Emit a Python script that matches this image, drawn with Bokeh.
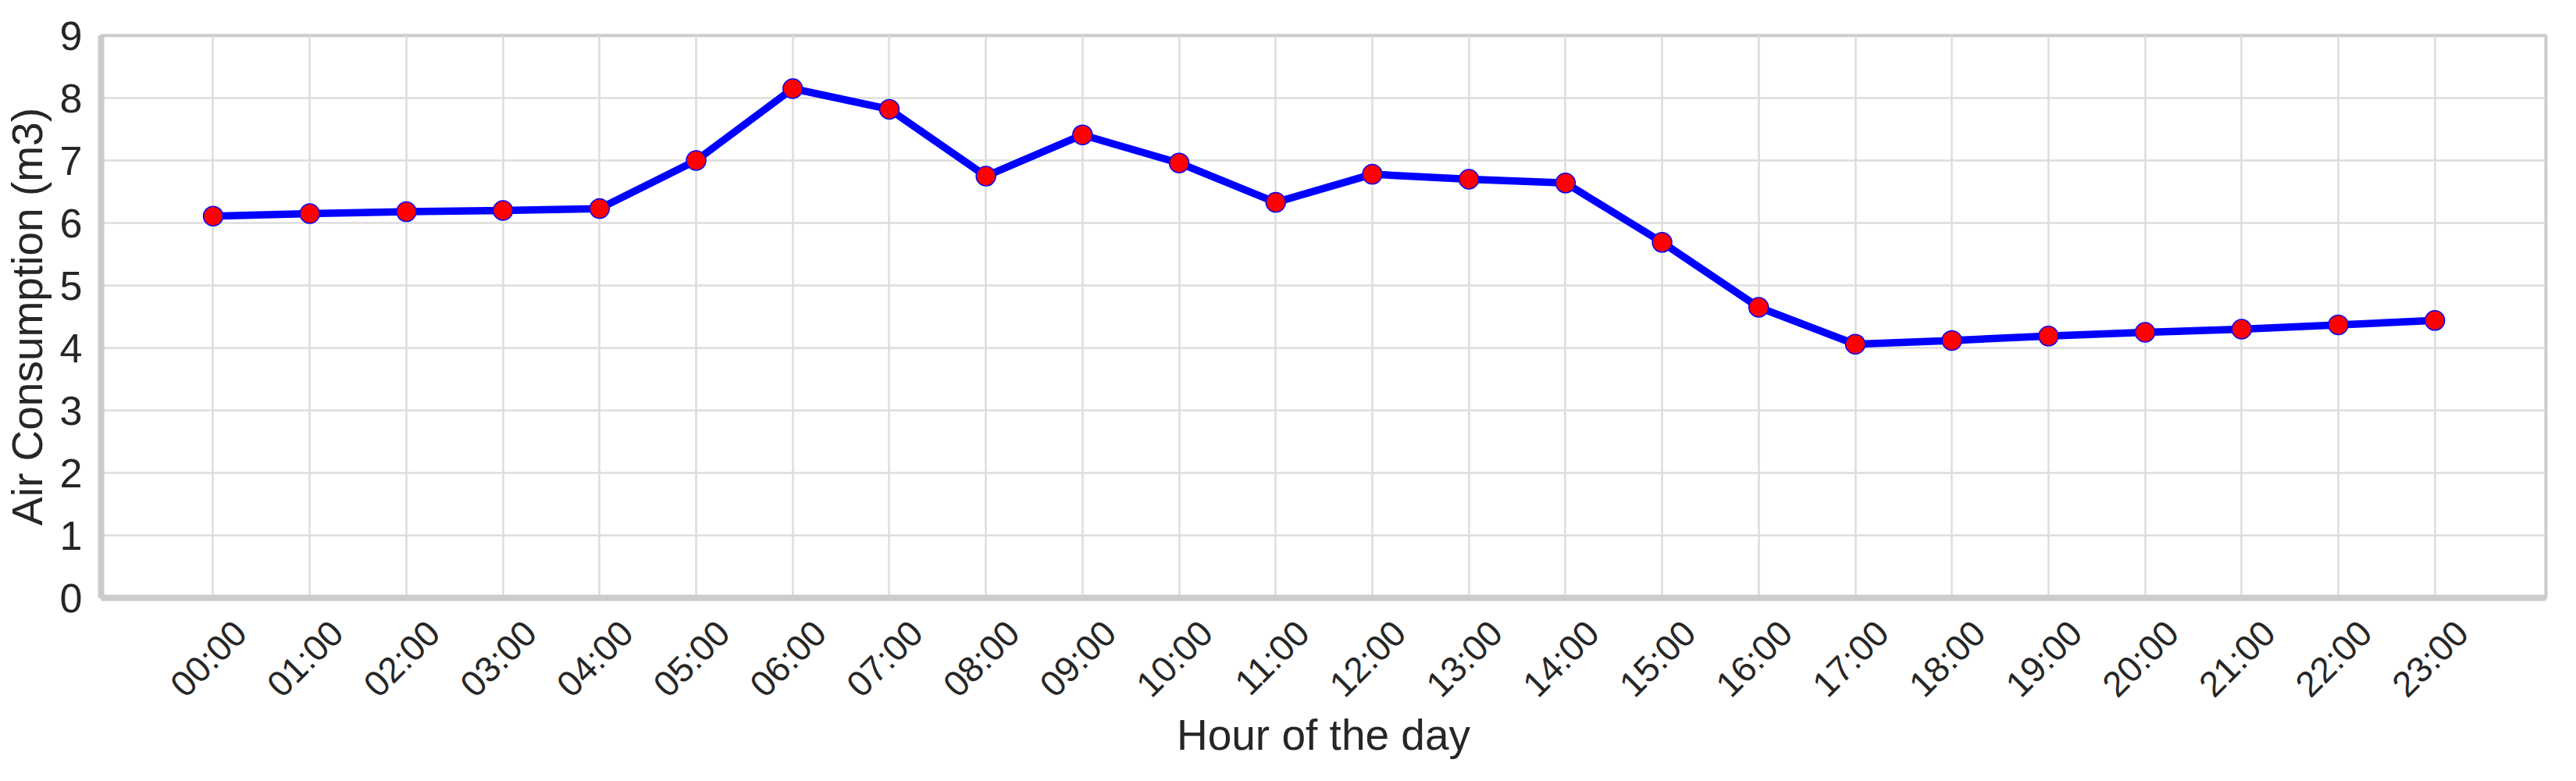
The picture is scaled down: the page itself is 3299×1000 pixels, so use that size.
import math
from bokeh.plotting import figure
from bokeh.models import Range1d, FixedTicker, ColumnDataSource
from bokeh.embed import file_html
from bokeh.resources import INLINE

# ---- data ----
hours = ["00:00", "01:00", "02:00", "03:00", "04:00", "05:00", "06:00", "07:00",
         "08:00", "09:00", "10:00", "11:00", "12:00", "13:00", "14:00", "15:00",
         "16:00", "17:00", "18:00", "19:00", "20:00", "21:00", "22:00", "23:00"]
air_m3 = [6.11, 6.15, 6.18, 6.20, 6.23, 7.00, 8.15, 7.82, 6.75, 7.41, 6.96, 6.33,
          6.78, 6.70, 6.64, 5.69, 4.65, 4.06, 4.12, 4.19, 4.25, 4.30, 4.37, 4.44]
y_ticks = [0, 1, 2, 3, 4, 5, 6, 7, 8, 9]
x_title = "Hour of the day"
y_title = "Air Consumption (m3)"

FONT = "Liberation Sans"
TXT = "#262626"

x_pos = list(range(len(hours)))
src = ColumnDataSource(dict(x=x_pos, y=air_m3))

p = figure(width=3283, height=984,
           x_range=Range1d(-1.16, 24.15), y_range=Range1d(0, 9),
           output_backend="svg", toolbar_location=None,
           min_border_left=126, min_border_right=23,
           min_border_top=45, min_border_bottom=219)

p.background_fill_color = "white"
p.border_fill_color = "white"
p.outline_line_color = "#cccccc"
p.outline_line_width = 4

# grids at the hour positions
p.xgrid.ticker = FixedTicker(ticks=x_pos)
p.ygrid.ticker = FixedTicker(ticks=y_ticks)
for g in (p.xgrid, p.ygrid):
    g.grid_line_color = "#dddddd"
    g.grid_line_width = 2.5

# x axis: rotated labels are end-anchored by Bokeh; nudge the (invisible) label
# anchors so that each rotated label is centred under its hour grid line
LABEL_SHIFT = 0.28
label_ticks = [x + LABEL_SHIFT for x in x_pos]
xa = p.xaxis[0]
xa.ticker = FixedTicker(ticks=label_ticks)
xa.major_label_overrides = {t: lab for t, lab in zip(label_ticks, hours)}
xa.major_label_orientation = math.pi / 4
xa.major_label_standoff = 37
xa.major_label_text_font = FONT
xa.major_label_text_font_size = "46px"
xa.major_label_text_color = TXT
xa.axis_line_color = "#cccccc"
xa.axis_line_width = 8
xa.major_tick_line_color = None
xa.minor_tick_line_color = None
xa.major_tick_out = 0
xa.major_tick_in = 0
xa.axis_label = x_title
xa.axis_label_text_font = FONT
xa.axis_label_text_font_style = "normal"
xa.axis_label_text_font_size = "55px"
xa.axis_label_text_color = TXT
xa.axis_label_standoff = -14

ya = p.yaxis[0]
ya.ticker = FixedTicker(ticks=y_ticks)
ya.axis_line_color = "#cccccc"
ya.axis_line_width = 8
ya.major_tick_line_color = None
ya.minor_tick_line_color = None
ya.major_tick_out = 0
ya.major_tick_in = 0
ya.major_label_standoff = 24
ya.major_label_text_font = FONT
ya.major_label_text_font_size = "52px"
ya.major_label_text_color = TXT
ya.axis_label = y_title
ya.axis_label_text_font = FONT
ya.axis_label_text_font_style = "normal"
ya.axis_label_text_font_size = "55px"
ya.axis_label_text_color = TXT
ya.axis_label_standoff = 8

# series
p.line("x", "y", source=src, line_color="#0000ff", line_width=9.5)
p.scatter("x", "y", source=src, size=25, fill_color="#ff0000",
          line_color="#0000ff", line_width=1.5)

open("out.html", "w").write(file_html(p, INLINE))
